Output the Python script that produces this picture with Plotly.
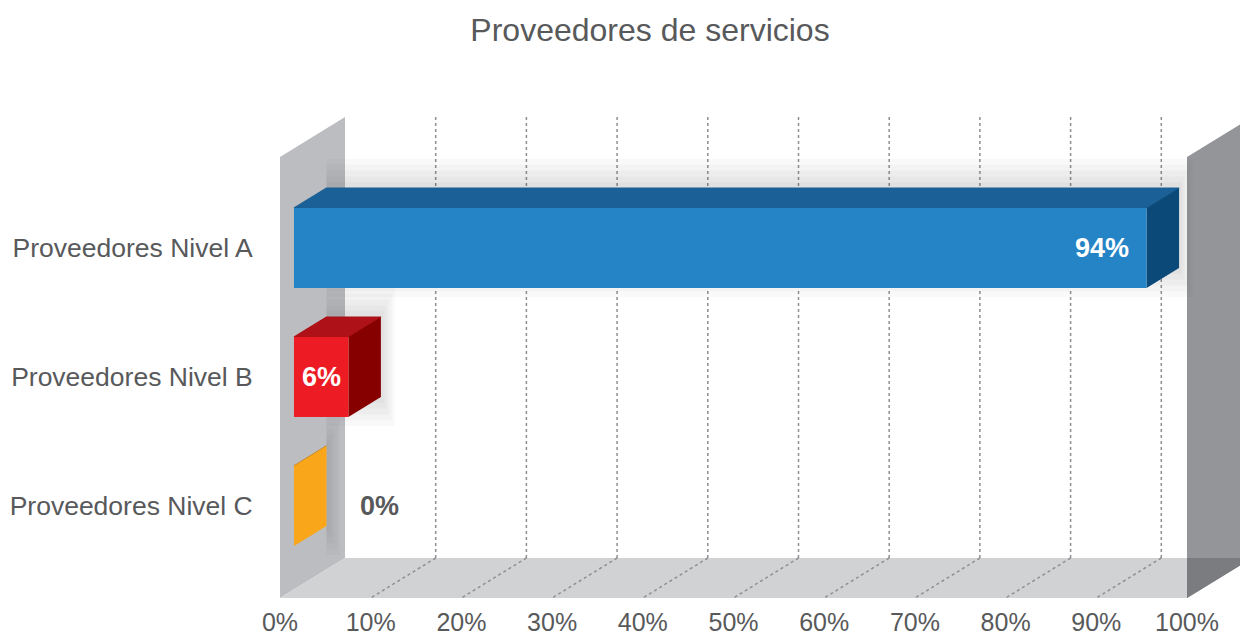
import plotly.graph_objects as go

# ---------------- data ----------------
categories = ["Proveedores Nivel A", "Proveedores Nivel B", "Proveedores Nivel C"]
values = [94, 6, 0]
value_labels = ["94%", "6%", "0%"]
x_ticks = [0, 10, 20, 30, 40, 50, 60, 70, 80, 90, 100]
x_tick_labels = ["0%", "10%", "20%", "30%", "40%", "50%", "60%", "70%", "80%", "90%", "100%"]
title_text = "Proveedores de servicios"

# ---------------- styles ----------------
front_colors = ["#2484c6", "#ed1c24", "#f9a61b"]
top_colors = ["#1b6197", "#ae1118", "#c27c0e"]
side_colors = ["#0b4a78", "#860000", "#f9a61b"]
label_colors = ["#ffffff", "#ffffff", "#58595b"]
TEXT = "#58595b"
FONT = "Liberation Sans, Arial, sans-serif"

# ---------------- geometry (axis units) ----------------
W, H = 1240, 637
M_L, M_R, M_T, M_B = 280, 0, 100, 39
PX_PER_X = 9.07
X_MAX = (W - M_L - M_R) / PX_PER_X
PX_PER_CAT = 129.0
CAT0_PX = 248.0
Y_TOP = (M_T - CAT0_PX) / PX_PER_CAT
Y_BOT = (H - M_B - CAT0_PX) / PX_PER_CAT
DX = 65 / PX_PER_X          # full wall depth, x units
DY = -40 / PX_PER_CAT       # full wall depth, y units (reversed axis)
WALL_TOP = (157 - CAT0_PX) / PX_PER_CAT
FLOOR = Y_BOT
BAR_D0 = 0.215              # bar front face depth (fraction of wall depth)
BAR_DEPTH = 0.5
BAR_H = 0.31

def path(pts):
    return "M " + " L ".join(f"{x:.4f},{y:.4f}" for x, y in pts) + " Z"

shapes = []
# left wall
shapes.append(dict(type="path", layer="below", line=dict(width=0), fillcolor="#bcbdc0",
                   path=path([(0, WALL_TOP), (DX, WALL_TOP + DY), (DX, FLOOR + DY), (0, FLOOR)])))
# floor
shapes.append(dict(type="path", layer="below", line=dict(width=0), fillcolor="#d1d2d4",
                   path=path([(0, FLOOR), (DX, FLOOR + DY), (100 + DX, FLOOR + DY), (100, FLOOR)])))
# right wall
shapes.append(dict(type="path", layer="below", line=dict(width=0), fillcolor="#939598",
                   path=path([(100, WALL_TOP), (100 + DX, WALL_TOP + DY), (100 + DX, FLOOR + DY), (100, FLOOR)])))
shapes.append(dict(type="path", layer="below", line=dict(width=0), fillcolor="#7b7c7f",
                   path=path([(100, FLOOR + DY), (100 + DX, FLOOR + DY), (100, FLOOR)])))
# dotted gridlines (back wall + floor)
for t in x_ticks[1:-1]:
    shapes.append(dict(type="line", layer="below", x0=t + DX, x1=t + DX, y0=WALL_TOP + DY, y1=FLOOR + DY,
                       line=dict(color="#8d8f92", width=1.5, dash="dot")))
    shapes.append(dict(type="line", layer="below", x0=t + DX, x1=t, y0=FLOOR + DY, y1=FLOOR,
                       line=dict(color="#8d8f92", width=1.5, dash="dot")))

fig = go.Figure()

bdx, bdy = BAR_DEPTH * DX, BAR_DEPTH * DY
annotations = []
for i, (cat, v) in enumerate(zip(categories, values)):
    yc = i
    x0 = BAR_D0 * DX
    x1 = x0 + v
    yt, yb = yc - BAR_H, yc + BAR_H
    # soft shadow on back wall
    for k in range(1, 6):
        px, py = 0.3 * k, 0.045 * k
        sh = [(x0 + bdx, yt + bdy - py), (x1 + bdx + px, yt + bdy - py),
              (x1 + bdx + px, yb + bdy + py), (x0 + bdx, yb + bdy + py)]
        fig.add_trace(go.Scatter(x=[p[0] for p in sh], y=[p[1] for p in sh], fill="toself", mode="lines",
                                 line=dict(width=0), fillcolor="rgba(60,60,70,0.03)",
                                 hoverinfo="skip", showlegend=False))
    top = [(x0, yt), (x0 + bdx, yt + bdy), (x1 + bdx, yt + bdy), (x1, yt)]
    side = [(x1, yt), (x1 + bdx, yt + bdy), (x1 + bdx, yb + bdy), (x1, yb)]
    front = [(x0, yt), (x1, yt), (x1, yb), (x0, yb)]
    for pts, col, lw in [(top, top_colors[i], 1.2), (side, side_colors[i], 0), (front, front_colors[i], 0)]:
        if v == 0 and pts is front:
            continue
        fig.add_trace(go.Scatter(x=[p[0] for p in pts] + [pts[0][0]], y=[p[1] for p in pts] + [pts[0][1]],
                                 fill="toself", mode="lines", line=dict(width=lw, color=col),
                                 fillcolor=col, hoverinfo="skip", showlegend=False))
    # value label
    if v == 0:
        ax, anc = x1 + bdx + 3.5, "left"
    elif v < 15:
        ax, anc = (x0 + x1) / 2, "center"
    else:
        ax, anc = x1 - 1.7, "right"
    annotations.append(dict(x=ax, y=yc, xref="x", yref="y", text=f"<b>{value_labels[i]}</b>",
                            showarrow=False, xanchor=anc, yanchor="middle",
                            font=dict(family=FONT, size=27, color=label_colors[i])))

fig.update_layout(
    width=W, height=H,
    margin=dict(l=M_L, r=M_R, t=M_T, b=M_B),
    paper_bgcolor="white", plot_bgcolor="white",
    shapes=shapes, annotations=annotations,
    showlegend=False,
    title=dict(text=title_text, x=650 / W, xref="container", xanchor="center",
               y=1 - 30 / H, yref="container", yanchor="middle",
               font=dict(family=FONT, size=32, color=TEXT)),
    xaxis=dict(range=[0, X_MAX], tickvals=x_ticks, ticktext=x_tick_labels, showgrid=False,
               zeroline=False, showline=False, ticks="outside", ticklen=2, tickcolor="rgba(0,0,0,0)",
               tickfont=dict(family=FONT, size=25, color=TEXT), automargin=False, fixedrange=True),
    yaxis=dict(range=[Y_BOT, Y_TOP], tickvals=[0, 1, 2], ticktext=categories, showgrid=False,
               zeroline=False, showline=False, ticks="outside", ticklen=21, tickcolor="rgba(0,0,0,0)",
               tickfont=dict(family=FONT, size=26.5, color=TEXT), automargin=False, fixedrange=True),
)

fig.write_html("out.html", config={"displayModeBar": False},
               post_script="document.body.style.margin='0';document.body.style.overflow='hidden';")
